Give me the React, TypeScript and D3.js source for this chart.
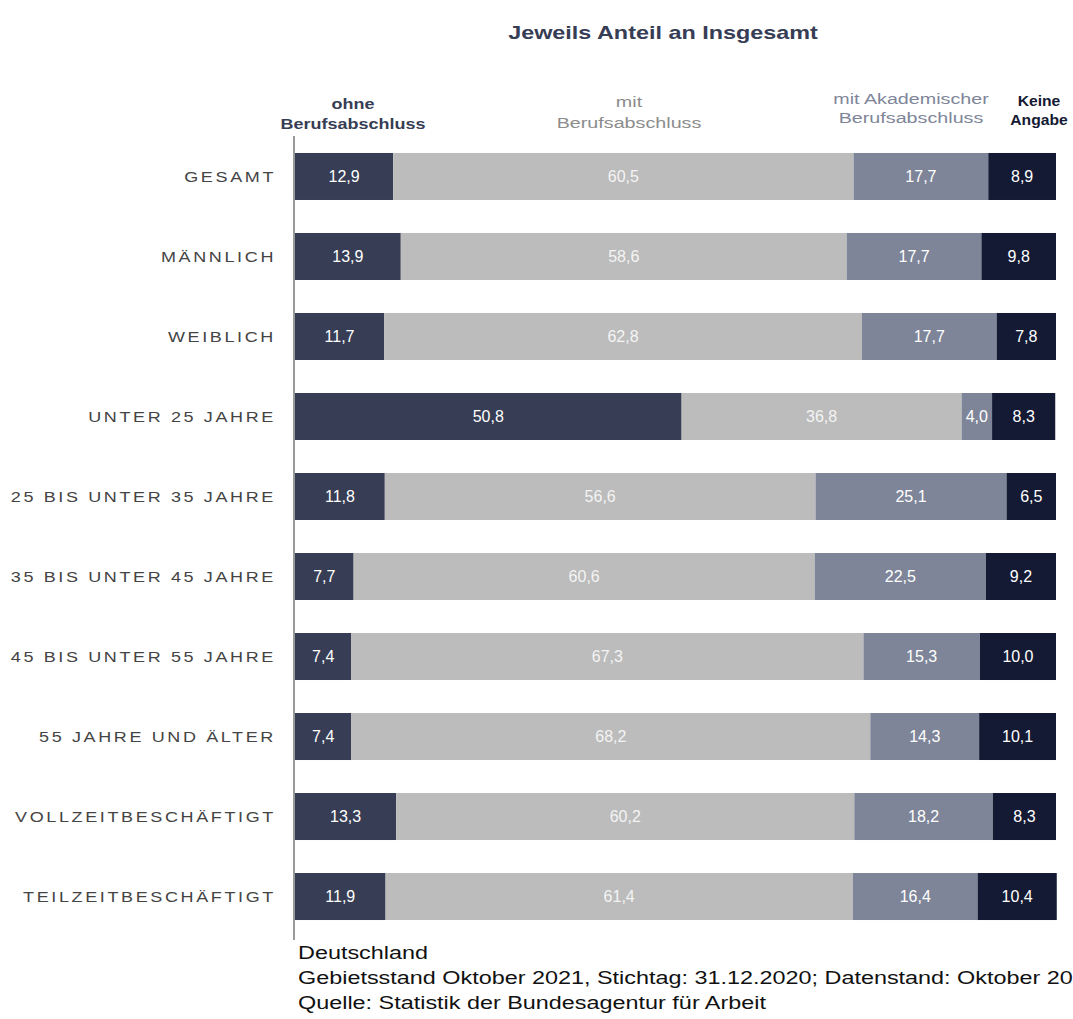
import React from "react";
import * as d3 from "d3";

const categories = [
  "GESAMT",
  "MÄNNLICH",
  "WEIBLICH",
  "UNTER 25 JAHRE",
  "25 BIS UNTER 35 JAHRE",
  "35 BIS UNTER 45 JAHRE",
  "45 BIS UNTER 55 JAHRE",
  "55 JAHRE UND ÄLTER",
  "VOLLZEITBESCHÄFTIGT",
  "TEILZEITBESCHÄFTIGT",
];
const ohne = [12.9, 13.9, 11.7, 50.8, 11.8, 7.7, 7.4, 7.4, 13.3, 11.9];
const mitBeruf = [60.5, 58.6, 62.8, 36.8, 56.6, 60.6, 67.3, 68.2, 60.2, 61.4];
const akademisch = [17.7, 17.7, 17.7, 4.0, 25.1, 22.5, 15.3, 14.3, 18.2, 16.4];
const keine = [8.9, 9.8, 7.8, 8.3, 6.5, 9.2, 10.0, 10.1, 8.3, 10.4];

const seriesKeys = ["ohne", "mit", "akad", "keine"];
const seriesHeaders = [
  ["ohne", "Berufsabschluss"],
  ["mit", "Berufsabschluss"],
  ["mit Akademischer", "Berufsabschluss"],
  ["Keine", "Angabe"],
];
const seriesColors = ["#363d54", "#bcbcbc", "#7e8599", "#141a33"];
const headerColors = ["#363d54", "#8c8c8c", "#7e8599", "#141a33"];
const labelColors = ["#ffffff", "#f4f4f4", "#ffffff", "#ffffff"];

const title = "Jeweils Anteil an Insgesamt";
const footer = [
  "Deutschland",
  "Gebietsstand Oktober 2021, Stichtag: 31.12.2020; Datenstand: Oktober 2021",
  "Quelle: Statistik der Bundesagentur für Arbeit",
];

const W = 1073;
const H = 1019;
const sans = "'Liberation Sans', Arial, sans-serif";

export default function App() {
  const rows = categories.map((c, i) => ({
    cat: c,
    ohne: ohne[i],
    mit: mitBeruf[i],
    akad: akademisch[i],
    keine: keine[i],
  }));
  const stack = d3.stack<any>().keys(seriesKeys)(rows);
  const x = d3.scaleLinear().domain([0, 100]).range([295, 1056]);
  const y = d3
    .scaleBand()
    .domain(categories)
    .range([136.5, 936.5])
    .paddingInner(0.4125)
    .paddingOuter(0.206);
  const fmt = (v: number) => v.toFixed(1).replace(".", ",");
  const headerX = [353, 629, 911, 1039];
  const headerY = [[109, 129], [107, 128], [104, 123], [106, 125]];
  const headerScale = [1.24, 1.36, 1.36, 1.08];
  const headerWeight = ["bold", "normal", "normal", "bold"];

  return (
    <div style={{ position: "absolute", left: 0, top: 0, width: W, height: H, overflow: "hidden" }}>
      <svg width={W} height={H} style={{ display: "block", background: "#fff" }}>
        <text
          transform="translate(663,39) scale(1.3,1)"
          textAnchor="middle"
          fontFamily={sans}
          fontWeight="bold"
          fontSize={18}
          fill="#363d54"
        >
          {title}
        </text>
        {seriesHeaders.map((lines, si) =>
          lines.map((l, li) => (
            <text
              key={si + "-" + li}
              transform={`translate(${headerX[si]},${headerY[si][li]}) scale(${headerScale[si]},1)`}
              textAnchor="middle"
              fontFamily={sans}
              fontWeight={headerWeight[si]}
              fontSize={14.5}
              fill={headerColors[si]}
            >
              {l}
            </text>
          ))
        )}
        {stack.map((s, si) => (
          <g key={s.key}>
            {s.map((d, i) => (
              <rect
                key={i}
                x={x(d[0])}
                y={y(categories[i])!}
                width={x(d[1]) - x(d[0])}
                height={y.bandwidth()}
                fill={seriesColors[si]}
              />
            ))}
            {s.map((d, i) => (
              <text
                key={"t" + i}
                x={(x(d[0]) + x(d[1])) / 2}
                y={y(categories[i])! + y.bandwidth() / 2}
                dy="0.36em"
                textAnchor="middle"
                fontFamily={sans}
                fontSize={16}
                fill={labelColors[si]}
              >
                {fmt(d[1] - d[0])}
              </text>
            ))}
          </g>
        ))}
        <line x1={294} x2={294} y1={136} y2={940} stroke="#555" strokeWidth={1.2} />
        {categories.map((c) => (
          <text
            key={c}
            transform={`translate(276,${y(c)! + y.bandwidth() / 2}) scale(1.2,1)`}
            dy="0.36em"
            textAnchor="end"
            fontFamily={sans}
            fontSize={15}
            letterSpacing={2.2}
            fill="#444"
          >
            {c}
          </text>
        ))}
        {footer.map((f, i) => (
          <text
            key={i}
            transform={`translate(298,${959 + i * 25}) scale(1.265,1)`}
            fontFamily={sans}
            fontSize={18.5}
            fill="#111"
          >
            {f}
          </text>
        ))}
      </svg>
    </div>
  );
}
